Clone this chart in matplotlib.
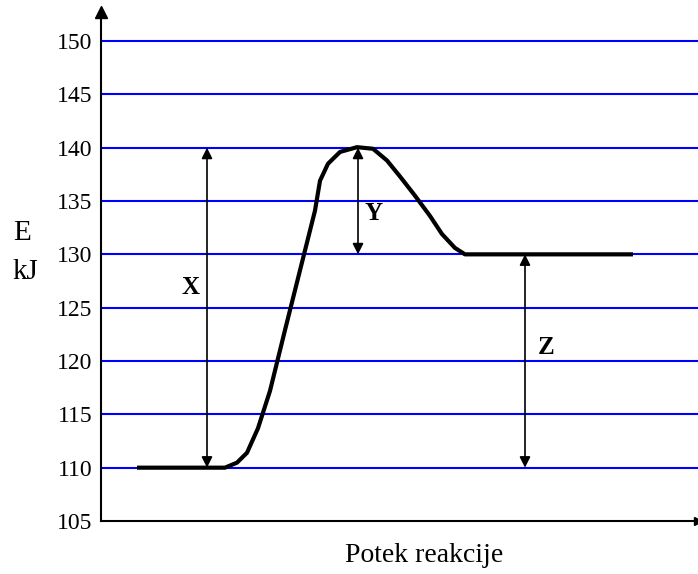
import matplotlib.pyplot as plt

# energy profile of the reaction (x is just position along the reaction path)
path_x = [36, 124, 136, 146, 157, 169, 184, 199, 214, 219, 227, 239, 256, 272, 286, 299, 314, 329, 341, 354, 364, 532]
energy = [110, 110, 110.47, 111.4, 113.7, 117.2, 122.9, 128.5, 134.1, 136.9, 138.5, 139.6, 140.05, 139.9,
          138.8, 137.3, 135.5, 133.6, 131.9, 130.6, 130, 130]

grid_levels = [110, 115, 120, 125, 130, 135, 140, 145, 150]
tick_values = [105, 110, 115, 120, 125, 130, 135, 140, 145, 150]

# double arrows: (x, from, to, label, label x, label y)
arrows = [(106, 110, 140, "X", 89, 126.85),
          (257, 140, 130, "Y", 273, 133.85),
          (424, 130, 110, "Z", 445, 121.3)]

serif = "Liberation Serif"

fig = plt.figure(figsize=(6.98, 5.74), dpi=100)
ax = fig.add_axes([101 / 698, 1 - 521 / 574, 1 - 101 / 698, (521 - 12) / 574])
ax.set_xlim(0, 597)
ax.set_ylim(105, 150 + 29 / 10.65)

for lvl in grid_levels:
    ax.axhline(lvl, color="#0000ff", lw=1.5, zorder=1)

ax.plot(path_x, energy, color="black", lw=3, solid_capstyle="butt", zorder=3)

for x, y0, y1, lab, lx, ly in arrows:
    ax.annotate("", xy=(x, y1), xytext=(x, y0),
                arrowprops=dict(arrowstyle="<|-|>", color="black", lw=1.2,
                                shrinkA=0, shrinkB=0, mutation_scale=16), zorder=4)
    ax.text(lx, ly, lab, fontfamily=serif, fontweight="bold", fontsize=18,
            ha="center", va="center")

for side in ["top", "right"]:
    ax.spines[side].set_visible(False)
ax.spines["left"].set_linewidth(1.5)
ax.spines["bottom"].set_linewidth(1.5)
ax.plot(0, 1, marker="^", color="black", markersize=8, transform=ax.transAxes, clip_on=False)
ax.plot(1, 0, marker=">", color="black", markersize=6, transform=ax.transAxes, clip_on=False)

ax.set_xticks([])
ax.set_yticks(tick_values)
ax.set_yticklabels([str(v) for v in tick_values], fontfamily=serif, fontsize=17)
ax.tick_params(axis="y", length=0, pad=6)

fig.text(22 / 698, 1 - 233 / 574, "E", fontfamily=serif, fontsize=21, ha="center", va="center")
fig.text(25 / 698, 1 - 272 / 574, "kJ", fontfamily=serif, fontsize=21, ha="center", va="center")
fig.text(424 / 698, 1 - 555 / 574, "Potek reakcije", fontfamily=serif, fontsize=20, ha="center", va="center")

fig.savefig("out.png", dpi=100)
